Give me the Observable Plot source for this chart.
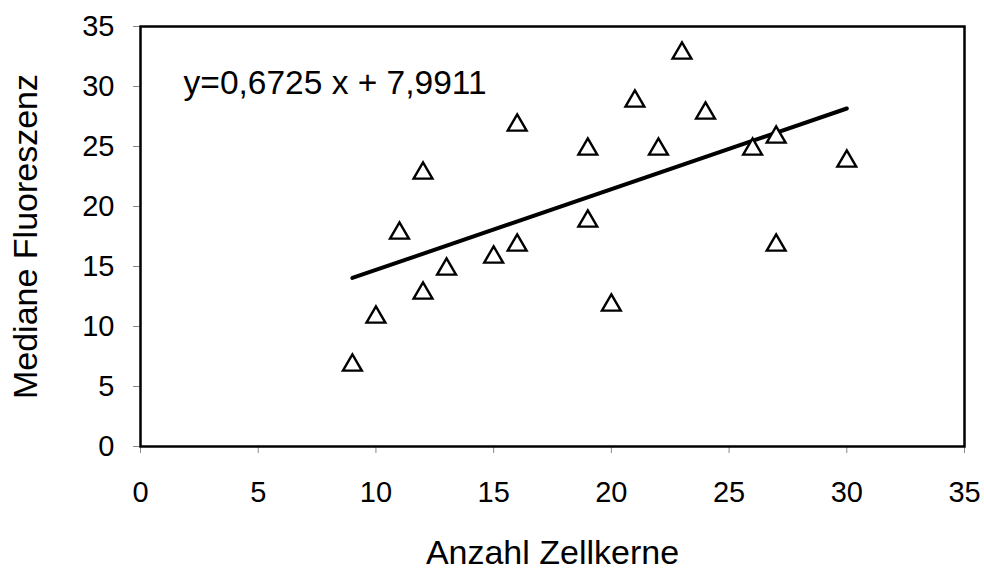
<!DOCTYPE html>
<html>
<head>
<meta charset="utf-8">
<script src="https://cdn.jsdelivr.net/npm/d3@7"></script>
<script src="https://cdn.jsdelivr.net/npm/@observablehq/plot@0.6"></script>
<style>
  html, body { margin: 0; padding: 0; background: #fff; }
  #chart svg { display: block; }
</style>
</head>
<body>
<div id="chart"></div>
<script>
// Data
const nuclei = [9, 10, 11, 12, 12, 13, 15, 16, 16, 19, 19, 20, 21, 22, 23, 24, 26, 27, 27, 30];
const fluorescence = [7, 11, 18, 23, 13, 15, 16, 27, 17, 25, 19, 12, 29, 25, 33, 28, 25, 26, 17, 24];
const slope = 0.6725;
const intercept = 7.9911;
const equationLabel = "y=0,6725 x + 7,9911";
const xTicks = [0, 5, 10, 15, 20, 25, 30, 35];
const yTicks = [0, 5, 10, 15, 20, 25, 30, 35];
const xTitle = "Anzahl Zellkerne";
const yTitle = "Mediane Fluoreszenz";

const points = nuclei.map((x, i) => ({x, y: fluorescence[i]}));
const xMin = d3.min(nuclei), xMax = d3.max(nuclei);
const fit = [xMin, xMax].map(x => ({x, y: slope * x + intercept}));

const chart = Plot.plot({
  width: 984,
  height: 571,
  marginLeft: 140,
  marginRight: 20,
  marginTop: 26,
  marginBottom: 125,
  style: {fontFamily: "'Liberation Sans', Arial, sans-serif", fontSize: "29px", color: "#000", background: "#fff"},
  x: {domain: [0, 35]},
  y: {domain: [0, 35]},
  marks: [
    Plot.axisX({ticks: xTicks, tickSize: 7, tickPadding: 28, stroke: "#888", fill: "#000", fontSize: 29,
      label: null}),
    Plot.axisX({ticks: [], label: xTitle, labelAnchor: "center", labelArrow: "none", labelOffset: 117, fontSize: 34, fill: "#000", tickSize: 0}),
    Plot.axisY({ticks: yTicks, tickSize: 7, tickPadding: 19, stroke: "#888", fill: "#000", fontSize: 29,
      label: null}),
    Plot.axisY({ticks: [], label: yTitle, labelAnchor: "center", labelArrow: "none", labelOffset: 128, fontSize: 34, fill: "#000", tickSize: 0}),
    Plot.frame({stroke: "#000", strokeWidth: 2.5}),
    Plot.line(fit, {x: "x", y: "y", stroke: "#000", strokeWidth: 4}),
    Plot.dot(points, {x: "x", y: "y", symbol: "triangle", r: 7, dy: 2.7, stroke: "#000", strokeWidth: 2.4, fill: "#fff"}),
    Plot.text([equationLabel], {x: 1.83, y: 30.3, text: d => d, textAnchor: "start", fontSize: 33.5, fill: "#000"})
  ]
});
document.getElementById("chart").appendChild(chart);
</script>
</body>
</html>
